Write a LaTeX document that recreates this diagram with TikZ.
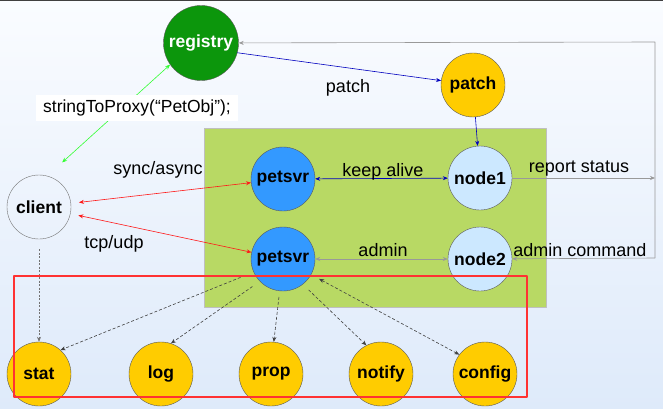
\documentclass[tikz,border=0pt]{standalone}
\usepackage{fontspec}
\setmainfont{Liberation Sans}
\usetikzlibrary{arrows.meta}
\definecolor{regfill}{RGB}{12,150,12}
\definecolor{yelfill}{RGB}{255,204,0}
\definecolor{petfill}{RGB}{51,153,255}
\definecolor{nodefill}{RGB}{204,232,255}
\definecolor{boxfill}{RGB}{184,217,100}
\definecolor{redline}{RGB}{255,50,50}
\definecolor{bgtop}{RGB}{250,252,255}
\definecolor{bgbot}{RGB}{222,234,250}
\begin{document}
\begin{tikzpicture}[x=1pt,y=-1pt,line join=round,>={Stealth[length=5pt,width=4pt]},
	ball/.style={circle,draw=black!65,thin,minimum size=64pt,inner sep=0pt,font=\fontsize{17.5}{18}\selectfont\bfseries},
	lbl/.style={font=\fontsize{18}{19}\selectfont,inner sep=1pt},
	grayarr/.style={draw=black!40,line width=0.6pt},
	bluearr/.style={draw=blue!75!black,line width=0.6pt},
	redarr/.style={draw=red!90,line width=0.6pt},
	greenarr/.style={draw=green!80,line width=0.6pt},
	dasharr/.style={draw=black!75,line width=0.6pt,dash pattern=on 3pt off 2pt},
	dotarr/.style={draw=black!55,line width=0.6pt,dash pattern=on 2pt off 1.5pt}]
	\useasboundingbox (0,0) rectangle (663,409);
	% background
	\shade[top color=bgtop,bottom color=bgbot] (0,0) rectangle (663,409);
	\draw[line width=1.5pt,black!75] (0,0.5) -- (663,0.5);
	\draw[fill=boxfill,draw=black!25] (204,128) rectangle (546,307);
	% nodes
	\node[ball,fill=regfill,text=white,minimum size=75pt] (registry) at (201,43) {registry};
	\node[ball,fill=yelfill] (patch) at (473,85) {patch};
	\node[ball,draw=black!55] (client) at (39,207) {client};
	\node[ball,fill=petfill] (ps1) at (283,179) {petsvr};
	\node[ball,fill=petfill] (ps2) at (283,259) {petsvr};
	\node[ball,fill=nodefill] (node1) at (480,178) {node1};
	\node[ball,fill=nodefill] (node2) at (480,259) {node2};
	\node[ball,fill=yelfill] (stat) at (39,374) {stat};
	\node[ball,fill=yelfill] (log) at (161,374) {log};
	\node[ball,fill=yelfill] (prop) at (271,374) {prop};
	\node[ball,fill=yelfill] (notify) at (381,374) {notify};
	\node[ball,fill=yelfill] (config) at (485,374) {config};
	\coordinate (ne) at (655,42);
	\coordinate (se) at (655,258);
	% connectors
	\draw[greenarr,<->,shorten >=20pt] (registry.215) -- (client.75);
	\draw[bluearr,->] (registry.-15) -- (patch);
	\draw[bluearr,->] (patch) -- (node1);
	\draw[redarr,<->,shorten <=8pt] (client) -- (ps1);
	\draw[redarr,<->,shorten <=8pt] (client) -- (ps2);
	\draw[bluearr,<->] (ps1) -- (node1);
	\draw[grayarr,<->] (ps2) -- (node2);
	\draw[grayarr,->] (node1) -- (node1 -| ne);
	\draw[grayarr,->] (se) -- (ne) -- (registry);
	\draw[grayarr,->] (se) -- (node2);
	\draw[dotarr,->,shorten <=10pt] (client) -- (stat.north);
	\draw[dasharr,->,shorten <=9pt] (ps2.204) -- (stat.48);
	\draw[dasharr,->,shorten <=9pt] (ps2.224) -- (log.72);
	\draw[dasharr,->,shorten <=6pt] (ps2.264) -- (prop.85);
	\draw[dasharr,->,shorten <=8pt] (ps2.308) -- (notify.117);
	\draw[dasharr,<->,shorten <=9pt] (ps2.331) -- (config.143);
	% labels
	\node[lbl,fill=white,inner xsep=7pt,inner ysep=5pt,font=\fontsize{17.5}{18}\selectfont] (proxy) at (137,108) {stringToProxy(“PetObj”);};
	\node[lbl] (lpatch) at (348,88) {patch};
	\node[lbl] (lsync) at (158,170) {sync/async};
	\node[lbl] (ltcp) at (114,244) {tcp/udp};
	\node[lbl] (lkeep) at (383,172) {keep alive};
	\node[lbl] (lreport) at (579,169) {report status};
	\node[lbl] (ladmin) at (383,250) {admin};
	\node[lbl] (lcmd) at (580,250) {admin command};
	% group frame
	\draw[line width=2pt,redline] (14,276) rectangle (527,397);
\end{tikzpicture}
\end{document}
